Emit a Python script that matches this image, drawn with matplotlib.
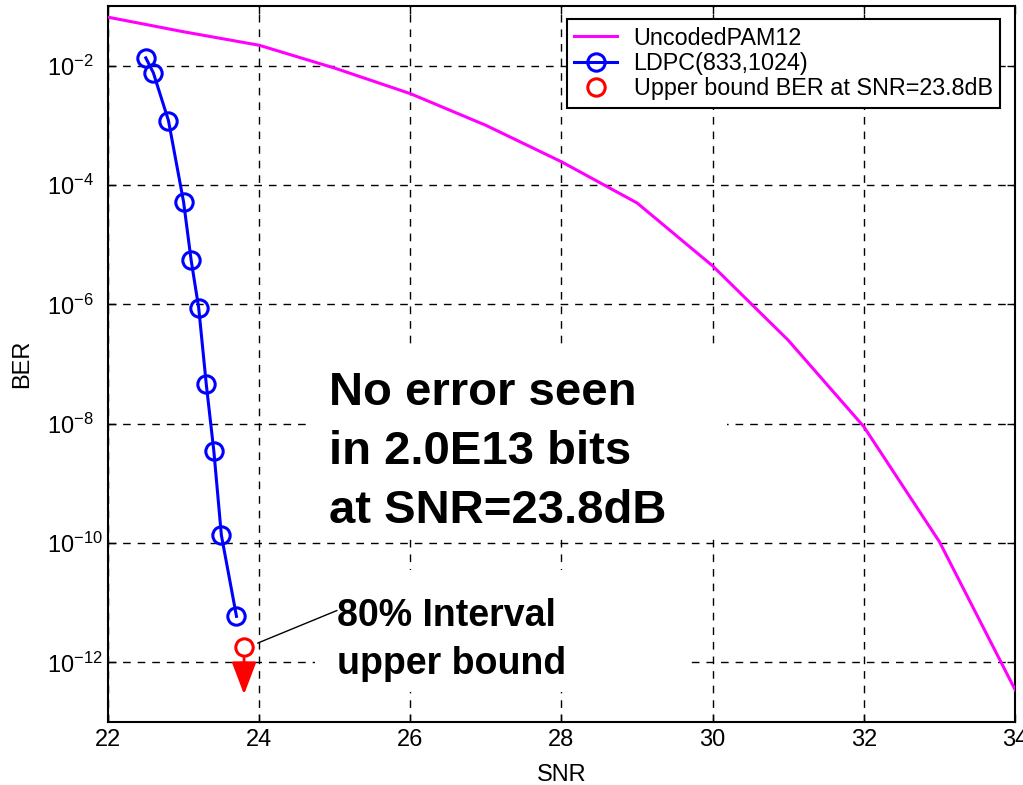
import matplotlib
matplotlib.use('Agg')
import matplotlib.pyplot as plt
import numpy as np
from matplotlib.patches import Rectangle

plt.rcParams['font.family'] = ['Liberation Sans', 'DejaVu Sans']
plt.rcParams['mathtext.default'] = 'regular'

# uncoded PAM12 reference curve, 1 dB steps
SNR_UNCODED = [22, 23, 24, 25, 26, 27, 28, 29, 30, 31, 32, 33, 34]
BER_UNCODED = [6.5e-2, 3.7e-2, 2.2e-2, 9.1e-3, 3.4e-3, 1.0e-3, 2.45e-4,
               5.0e-5, 4.4e-6, 2.5e-7, 8.9e-9, 1.05e-10, 3.5e-13]

# LDPC(833,1024) measurements
SNR_LDPC = [22.5, 22.6, 22.8, 23.0, 23.1, 23.2, 23.3, 23.4, 23.5, 23.7]
BER_LDPC = [1.35e-2, 7.6e-3, 1.2e-3, 5.2e-5, 5.5e-6, 8.7e-7, 4.6e-8,
            3.5e-9, 1.35e-10, 5.9e-12]

# no errors seen -> only an upper bound
SNR_BOUND = 23.8
BER_BOUND = 1.8e-12
BER_BOUND_TIP = 2.9e-13

LABELS = ['UncodedPAM12', 'LDPC(833,1024)', 'Upper bound BER at SNR=23.8dB']
NOTE_MAIN = 'No error seen\nin 2.0E13 bits\nat SNR=23.8dB'
NOTE_BOUND = '80% Interval\nupper bound'
XTICKS = [22, 24, 26, 28, 30, 32, 34]
YTICKS = [1e-12, 1e-10, 1e-8, 1e-6, 1e-4, 1e-2]


def main():
    fig = plt.figure(figsize=(10.23, 7.85), dpi=100)
    ax = fig.add_axes([0.10557, 0.08025, 0.88661, 0.91210])

    ax.semilogy(SNR_UNCODED, BER_UNCODED, '-', color='magenta', lw=2.2,
                label=LABELS[0], zorder=3)
    ax.semilogy(SNR_LDPC, BER_LDPC, '-o', color='blue', lw=2.2, ms=12.5,
                mew=2.2, mfc='none', label=LABELS[1], zorder=3)
    ax.semilogy([SNR_BOUND], [BER_BOUND], 'o', color='red', ms=12.5, mew=2.2,
                mfc='none', label=LABELS[2], zorder=3)
    ax.annotate('', xy=(SNR_BOUND, BER_BOUND_TIP), xytext=(SNR_BOUND, BER_BOUND),
                arrowprops=dict(arrowstyle='-|>,head_length=1.0,head_width=0.38',
                                color='red', lw=2, mutation_scale=20,
                                shrinkA=8, shrinkB=0), zorder=3)

    ax.set_xlim(22, 34)
    ax.set_ylim(1e-13, 1e-1)
    ax.set_xticks(XTICKS)
    ax.set_yticks(YTICKS)
    ax.minorticks_off()
    ax.tick_params(direction='in', length=6, width=1, top=True, right=True,
                   labelsize=17, colors='black')
    ax.tick_params(axis='x', pad=5)
    ax.tick_params(axis='y', pad=44)
    plt.setp(ax.get_yticklabels(), ha='left')
    for s in ax.spines.values():
        s.set_linewidth(1.5)
    ax.grid(True, color='black', lw=1.0, linestyle=(0, (5.5, 5)))

    ax.set_xlabel('SNR', fontsize=17)
    ax.set_ylabel('BER', fontsize=17)
    ax.xaxis.set_label_coords(0.5, -0.058)
    ax.yaxis.set_label_coords(-0.0827, 0.5)

    # white boxes behind the notes
    ax.add_patch(Rectangle((0.2205, 0.2584), 0.462, 0.2639, transform=ax.transAxes,
                           facecolor='white', edgecolor='none', zorder=1.8))
    ax.add_patch(Rectangle((0.2282, 0.0419), 0.4102, 0.1704, transform=ax.transAxes,
                           facecolor='white', edgecolor='none', zorder=1.8))
    ax.text(0.2437, 0.490, NOTE_MAIN, transform=ax.transAxes, fontsize=34,
            fontweight='bold', ha='left', va='top', linespacing=1.44, zorder=4)
    ax.text(0.2525, 0.173, NOTE_BOUND, transform=ax.transAxes, fontsize=27,
            fontweight='bold', ha='left', va='top', linespacing=1.42, zorder=4)
    ax.annotate('', xy=(23.98, 2.1e-12), xytext=(25.03, 7.4e-12),
                arrowprops=dict(arrowstyle='-', color='black', lw=1,
                                shrinkA=0, shrinkB=0), zorder=4)

    leg = ax.legend(loc='upper right', bbox_to_anchor=(0.9835, 0.9818),
                    borderaxespad=0, fontsize=16.8, labelspacing=0.1,
                    handlelength=1.85, handletextpad=0.7, borderpad=0.32,
                    fancybox=False, framealpha=1, edgecolor='black')
    leg.get_frame().set_linewidth(1.5)
    leg.set_zorder(5)

    plt.savefig('out.png', dpi=100)


if __name__ == '__main__':
    main()
